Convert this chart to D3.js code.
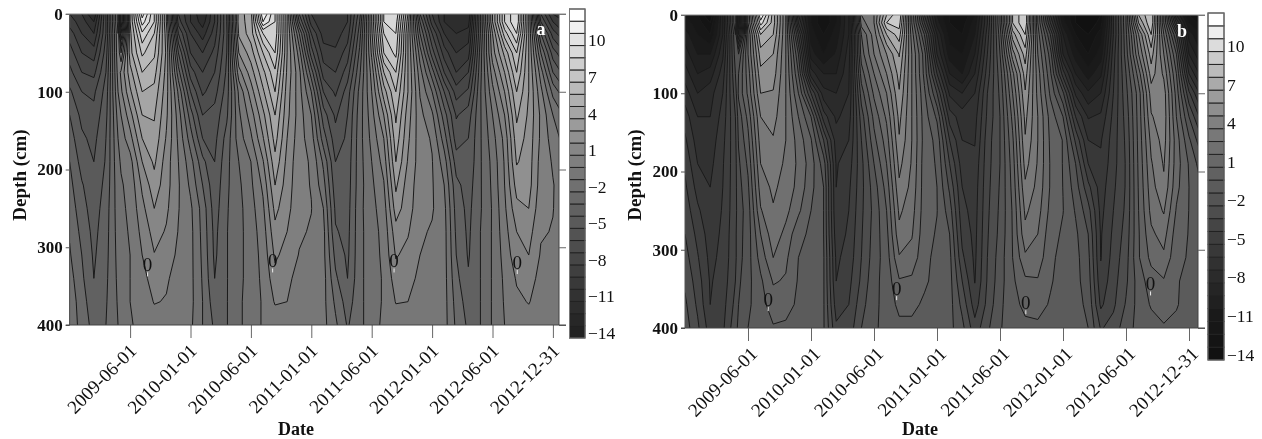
<!DOCTYPE html>
<html>
<head>
<meta charset="utf-8">
<script src="https://cdn.jsdelivr.net/npm/d3@7"></script>
<style>
body { margin: 0; background: #fff; }
svg { filter: blur(0.35px); }
text { font-family: "Liberation Serif", serif; fill: #111; }
</style>
</head>
<body>
<svg id="chart" width="1262" height="439"></svg>
<script>
// depth of each sampled level (cm)
var depths = [0, 10, 25, 50, 75, 100, 130, 160, 190, 220, 250, 280, 310, 340, 370, 400];
var depthTicks = [0, 100, 200, 300, 400];
// axis is evenly spaced by tick, samples sit about every fifth of a tick
var colTicks = [0, .2, .4, .6, .8, .85, 1, 1.2, 1.4, 1.6, 1.8, 2, 2.2, 2.4, 2.6, 2.8, 3, 3.2, 3.4, 3.6, 3.8, 4, 4.2, 4.4, 4.6, 4.8, 5, 5.2, 5.4, 5.6, 5.8, 6, 6.2, 6.4, 6.6, 6.8, 7, 7.2, 7.4, 7.6, 7.8, 8, 8.2];
var dateLabels = ["2009-06-01", "2010-01-01", "2010-06-01", "2011-01-01", "2011-06-01", "2012-01-01", "2012-06-01", "2012-12-31"];
var levels = d3.range(-14, 13);
var barLabels = [-14, -11, -8, -5, -2, 1, 4, 7, 10];
var grayStops = [-14, -11, -8, -5, -2, 1, 4, 7, 10, 12];
var graysA = [34, 50, 70, 90, 112, 134, 165, 197, 227, 255];
var graysB = [17, 26, 43, 62, 84, 104, 128, 170, 220, 255];

// temperature, one line per date column, top to bottom
var tempA = [
[-9,-8.5,-7.5,-6.5,-5.7,-4.8,-4,-3.5,-3,-2.7,-2.4,-2.1,-1.9,-1.6,-1.3,-1.1],
[-10,-9.5,-9,-8,-7,-6,-5.3,-4.8,-4.4,-3.9,-3.6,-3.3,-3,-2.8,-2.6,-2.5],
[-12,-11,-10,-8.5,-7.3,-6.2,-5.7,-5.3,-5,-4.7,-4.5,-4.3,-4.15,-4,-3.6,-3.3],
[-6,-6,-6,-5.5,-5,-4.6,-4.3,-4,-3.9,-3.7,-3.5,-3.4,-3.3,-3.2,-3.1,-3],
[1.5,1.5,1,.8,.4,0,-.6,-1,-1.2,-1.4,-1.5,-1.6,-1.7,-1.8,-1.9,-2],
[-6,-6,-4,-1,1.2,.8,0,-.5,-.9,-1.1,-1.2,-1.3,-1.4,-1.5,-1.6,-1.8],
[5,5,4.7,4.6,3.6,2.8,1.6,.6,-.4,-.7,-.8,-.9,-1,-1,-1,-1.1],
[11.5,10.5,8.8,7.2,6,5,4,3,2,1.2,.7,.3,0,-.3,-.5,-.7],
[8,8,7,6.2,5.4,4.7,4.1,3.7,3.2,2.6,2,1.4,.95,.4,.05,-.4],
[2,2,2.5,2.8,2.6,2.4,2.2,1.9,1.5,1.4,1.2,.9,.5,.1,-.05,-.4],
[-8,-7.5,-6,-4,-2.6,-1.2,-.5,-.2,0,.1,.05,-.05,-.2,-.3,-.4,-.5],
[-10,-10,-9,-8,-6.5,-5,-3.5,-2.5,-1.6,-1.2,-.8,-.7,-.7,-.7,-.7,-.8],
[-12,-11.5,-10.5,-9,-8,-7.2,-6,-5,-3.7,-3,-2.4,-2.3,-2.2,-2.1,-2,-2],
[-9,-9,-8.5,-7.7,-7,-6.4,-5.6,-5.3,-5,-4.7,-4.5,-4.3,-4.2,-4,-3.6,-3.2],
[-5,-5,-5.2,-5,-4.8,-4.5,-4.2,-3.6,-3.3,-3.2,-3.1,-3.05,-3.05,-3.05,-3.05,-3.05],
[3.5,3.6,3.2,2,.6,-.8,-1.2,-1.5,-2,-2.2,-2.3,-2.3,-2.3,-2.3,-2.2,-2.2],
[4.6,4.4,4.5,3.5,2.5,1.5,.5,-.2,-1,-1.2,-1.4,-1.5,-1.5,-1.5,-1.5,-1.5],
[12,11,8,6,4.7,3.8,2.7,1.9,.9,.2,-.2,-.5,-.7,-.8,-.9,-.9],
[9,9,8.8,8,6.8,6,5,4.4,3.7,3,2.3,1.7,1.2,.6,.1,-.6],
[3,3,3,3,2.8,2.5,2.3,2,1.7,1.5,1.3,1,.6,.2,0,-.4],
[-5,-4,-2,-.5,.3,.4,.5,.4,.3,.3,.3,.15,-.05,-.3,-.35,-.4],
[-9,-8.5,-7,-5.5,-3.5,-2,-1,-.5,-.1,-.05,.03,-.1,-.25,-.4,-.45,-.5],
[-10,-10,-9.5,-8.5,-7.5,-6,-4.5,-3.5,-2.2,-1.6,-1,-.7,-.7,-.6,-.7,-.7],
[-10,-10,-9.5,-8.8,-8,-7.2,-6.2,-5.6,-5,-4.6,-4.2,-3.9,-3.3,-2.8,-2.2,-1.8],
[-9,-9,-8.5,-7.5,-6.5,-5.5,-5,-4.8,-4.6,-4.5,-4.4,-4.3,-4.2,-4,-3.5,-3.1],
[-5.5,-5,-4.5,-3.8,-3.2,-2.7,-2.5,-2.4,-2.4,-2.4,-2.3,-2.3,-2.3,-2.3,-2.3,-2.3],
[2,2,1.8,1.2,.4,0,-.4,-.7,-1,-1.2,-1.3,-1.4,-1.4,-1.4,-1.4,-1.4],
[9,9,8,7,5,3.5,2,1,.4,-.1,-.5,-.7,-.8,-.9,-.9,-.8],
[10,9.5,9,8.3,7,6,5.2,4.6,4,3.2,2.5,1.6,1.1,.5,.05,-.5],
[4,3.5,3,3,3,3,2.5,2.2,1.9,1.5,1.4,1.1,.7,.3,0,-.4],
[-5,-4,-3,-1.5,-.6,-.1,.3,.4,.5,.5,.4,.15,0,-.2,-.3,-.4],
[-9,-8.5,-7,-5.5,-3.5,-2,-.8,-.1,.05,.1,.1,-.1,-.3,-.4,-.5,-.5],
[-11,-11,-10,-8.5,-7,-5,-3.5,-2.5,-1.5,-1,-.7,-.6,-.6,-.6,-.6,-.6],
[-12,-12,-11,-10,-9,-7.5,-6.1,-5.5,-4.5,-3.7,-3.4,-3.2,-3,-2.7,-2.4,-2.2],
[-12,-11.5,-10.5,-9.5,-8,-6.8,-5.5,-5,-4.8,-4.5,-4.3,-4.2,-4.1,-3.9,-3.5,-3.2],
[-4,-4,-4,-3.5,-3.3,-3.1,-3.1,-3.1,-3.1,-3.1,-3.1,-3,-3,-3,-3,-3],
[3,3,2,1.5,.5,-.3,-1,-1.4,-1.7,-1.8,-1.9,-1.9,-1.9,-1.9,-1.9,-1.9],
[8,8,6.5,4.3,3,2,1,.3,.1,0,-.2,-.4,-.6,-.8,-.9,-1],
[10,10,9,7,6,5,4.2,3.6,3.1,2.4,1.7,1,.6,.1,-.2,-.6],
[3,3,3,3,3,3,2.8,2.6,2.5,2.4,2,1.4,1,.4,.05,-.4],
[-7,-6,-4,-2,-.5,.3,.8,.8,.6,.5,.3,.1,-.1,-.3,-.4,-.4],
[-10,-9,-7.5,-5.5,-4,-2.3,-1,-.5,-.1,.05,.03,-.05,-.3,-.4,-.5,-.5],
[-11,-10,-9,-7,-5.5,-3.8,-2.2,-1.4,-.8,-.5,-.5,-.5,-.5,-.5,-.6,-.6]
];

var tempB = [
[-11,-10.5,-9.5,-8.5,-7.5,-6.5,-5.5,-4.8,-4.2,-3.8,-3.4,-3,-2.6,-2.2,-1.8,-1.5],
[-12,-11.5,-11,-10,-9,-8,-7,-6.5,-6,-5.4,-4.8,-4.3,-3.9,-3.5,-3.2,-2.8],
[-14,-13,-12,-10,-8.5,-7.4,-7,-6.6,-6.3,-6,-5.8,-5.5,-5.3,-5.1,-5,-4.5],
[-8,-8,-8,-7.2,-6.5,-6,-5.6,-5.3,-5.1,-5,-4.9,-4.8,-4.7,-4.6,-4.4,-4.2],
[0,0,-1,-1.5,-2,-2.5,-3,-3.2,-3.3,-3.3,-3.3,-3.2,-3.2,-3,-2.7,-2.3],
[-8,-8,-6,-2,-1,-.8,-1.6,-1.9,-2.2,-2.4,-2.5,-2.4,-2.4,-2.2,-2,-1.8],
[3,3,2,2,1.5,1.2,.3,-.3,-.8,-1.2,-1.5,-1.5,-1.4,-1.3,-1.2,-1],
[12,10.5,8,6.5,5.7,5,4,3.5,3,2.5,1.9,1,.4,-.2,-.4,-.5],
[7.5,7.5,7,6,5.5,4.9,4.4,3.9,3.6,3.2,2.9,2.6,2,1.1,.5,-.1],
[3,3,3,3,3,3,3,3,2.8,2.6,2.3,1.7,1.2,.9,.4,-.2],
[-7,-6,-4,-2,-1,0,1,1.6,1.8,1.7,1.2,.3,0,-.1,-.2,-.4],
[-11,-11,-10.5,-9.5,-7.5,-4,-1,.1,.5,.3,0,-.2,-.3,-.4,-.5,-.6],
[-13,-13,-12,-11,-9,-7.6,-5.5,-3,-1.5,-1,-1,-1,-.9,-.9,-.9,-.9],
[-11,-11,-10.5,-9.8,-9,-8,-7.2,-6.5,-6.1,-6,-5.9,-5.6,-5.2,-5,-4.5,-3.8],
[-8,-8,-8,-7.5,-7.2,-7,-6.5,-6,-5.5,-5.2,-5,-4.8,-4.6,-4.3,-4,-3.6],
[3,2.5,1,.5,-.5,-1.5,-2.5,-3,-3.3,-3.3,-3.2,-3.1,-3,-2.8,-2.4,-2],
[4,4,3.5,3,2,1.2,.3,-.3,-1,-1.5,-1.7,-1.6,-1.5,-1.3,-1.2,-1.1],
[8,9,7,5,4,3,2.2,1.5,1,.4,0,-.3,-.5,-.6,-.7,-.8],
[10,9.5,8.5,7.1,6.4,5.9,5.3,4.9,4.3,3.8,3.2,2.7,1.9,.9,.3,-.3],
[2,2,2.5,3,3,3,3,3,2.9,2.7,2.4,2.1,1.6,.8,.3,-.3],
[-5,-4,-2,-.5,-.3,.2,.5,.6,.5,.5,.5,.4,.3,.2,-.2,-.4],
[-10,-9.5,-8,-7,-5,-3,-1.2,-.3,-.1,0,.03,-.1,-.3,-.4,-.5,-.5],
[-12,-12,-11.5,-10.5,-9,-7.2,-5.5,-4,-3,-2.2,-1.5,-1,-.7,-.6,-.6,-.7],
[-13,-12.5,-12,-11,-10,-8,-6.5,-6,-5.5,-5,-4.7,-4.3,-3.8,-3,-2.3,-1.7],
[-11,-10.5,-10,-9,-8,-7,-6.4,-6.1,-5.7,-5.5,-5.4,-5.3,-5.2,-5.05,-4.5,-3.6],
[-6,-6,-5.5,-5,-4.5,-4,-3.8,-3.5,-3.4,-3.3,-3.2,-3.1,-3,-2.9,-2.7,-2.2],
[0,0,-.5,-1,-1.5,-1.8,-2,-2,-2,-1.9,-1.8,-1.7,-1.5,-1.4,-1.2,-1.05],
[8,8,6.5,4.5,2.7,2,1.3,.8,.5,.3,.1,.05,0,-.2,-.4,-.7],
[10,10,9,7.5,6.5,5.9,5.3,4.9,4.4,3.8,3.2,2.7,1.8,.8,.3,-.3],
[1,1,1.5,2,2.5,2.7,3,3,2.9,2.7,2.4,2,1.6,.9,.35,-.2],
[-6,-5,-3,-1.5,-.8,-.2,.6,.8,.9,.9,.7,.4,.2,.1,-.1,-.4],
[-11,-10.5,-9,-8,-5.5,-2.8,-1,-.05,-.05,-.02,.03,-.15,-.3,-.4,-.5,-.5],
[-13,-13,-12,-10.5,-9,-7.2,-5,-3.2,-2,-1.5,-1.1,-.8,-.7,-.7,-.7,-.7],
[-14,-14,-13,-12,-10.5,-8.8,-7.1,-6,-5,-3.7,-2.6,-2,-1.7,-1.5,-1.2,-1],
[-13,-12.5,-11.5,-10.5,-9.2,-8,-6.8,-6.1,-5.8,-5.5,-5.3,-5.1,-5.05,-4.7,-4.2,-3.1],
[-6,-6,-6,-5.5,-5.2,-5,-4.7,-4.5,-4.4,-4.2,-4,-3.8,-3.6,-3.4,-3.2,-2.6],
[-1,-1,-1.2,-1.5,-2,-2.3,-2.6,-2.8,-2.9,-2.9,-2.8,-2.6,-2.4,-2.2,-1.9,-1.4],
[7,6,4,3,1.5,.5,.4,.3,.2,.1,0,-.1,-.1,-.5,-.6,-.7],
[9,9,8,6.5,5.5,4.5,3.9,3.3,2.9,2.6,2.3,1.8,1.3,.5,.1,-.4],
[1,1,2,3,3.8,4.5,4.6,4.4,4.1,3.8,3.1,2.4,1.8,.9,.4,-.1],
[-8,-6,-3,-1,0,.6,1,1.5,1.5,1.3,.9,.5,.3,.1,.1,-.3],
[-12,-11,-9.5,-8,-6,-3.8,-2,-.8,-.1,0,-.02,-.05,-.1,-.3,-.5,-.5],
[-13,-12.5,-11,-10,-8.5,-6.5,-4.5,-2.8,-1.6,-1,-.8,-.7,-.6,-.6,-.6,-.6]
];

// where the "0" contour labels sit: tick position, depth
var zeroLabelsA = [[1.29, 331], [3.36, 326], [5.37, 326], [7.41, 328]];
var zeroLabelsB = [[1.32, 372], [3.36, 358], [5.41, 376], [7.39, 352]];

var svg = d3.select("#chart");

function drawPanel(id, name, temps, grays, zeros, box, bar) {
  var x = d3.scaleLinear().domain([0, 8]).range([box.left, box.left + box.step * 8]),
      y = d3.scaleLinear().domain([0, 400]).range([box.top, box.bottom]),
      color = d3.scaleLinear().domain(grayStops).range(grays),
      gray = function(k) { var v = Math.round(color(k)); return d3.rgb(v, v, v); };

  // contour grid coordinates -> sample index -> tick / depth
  var colIndex = d3.scaleLinear().domain(d3.range(colTicks.length)).range(colTicks),
      rowIndex = d3.scaleLinear().domain(d3.range(depths.length)).range(depths);
  var path = d3.geoPath(d3.geoTransform({
    point: function(cx, cy) {
      this.stream.point(x(colIndex(cx - .5)), y(rowIndex(cy - .5)));
    }
  }));

  var grid = [];
  depths.forEach(function(d, r) {
    colTicks.forEach(function(t, c) { grid.push(temps[c][r]); });
  });
  var contours = d3.contours().size([colTicks.length, depths.length]).thresholds(levels)(grid);

  svg.append("clipPath").attr("id", "clip" + id).append("rect")
      .attr("x", box.left).attr("y", box.top)
      .attr("width", box.right - box.left).attr("height", box.bottom - box.top);

  var g = svg.append("g").attr("clip-path", "url(#clip" + id + ")");
  g.append("rect")
      .attr("x", box.left).attr("y", box.top)
      .attr("width", box.right - box.left).attr("height", box.bottom - box.top)
      .attr("fill", gray(-14));
  g.selectAll("path").data(contours).enter().append("path")
      .attr("d", path)
      .attr("fill", function(d) { return gray(d.value); })
      .attr("stroke", "#1a1a1a")
      .attr("stroke-width", 1)
      .attr("stroke-linejoin", "round");

  // axes
  var bottom = svg.append("g").attr("transform", "translate(0," + box.bottom + ")")
      .call(d3.axisBottom(x).tickValues(d3.range(1, 9)).tickSize(13).tickSizeOuter(0)
        .tickFormat(function(d) { return dateLabels[d - 1]; }));
  bottom.selectAll("line").attr("stroke", "#666");
  bottom.select(".domain").remove();
  bottom.selectAll("text")
      .attr("font-size", 19)
      .attr("text-anchor", "end")
      .attr("dy", null)
      .attr("transform", "translate(" + box.dateShift + ",27) rotate(-45)")
      .attr("x", 0).attr("y", 0);

  var left = svg.append("g").attr("transform", "translate(" + box.left + ",0)")
      .call(d3.axisLeft(y).tickValues(depthTicks).tickSize(4).tickPadding(3));
  left.select(".domain").attr("stroke", "#555").attr("d", "M0," + box.top + "V" + box.bottom);
  left.selectAll("line").attr("stroke", "#555");
  left.selectAll("text").attr("font-size", 17).attr("font-weight", "bold");

  var right = svg.append("g").attr("transform", "translate(" + box.right + ",0)")
      .call(d3.axisRight(y).tickValues(depthTicks).tickSize(7).tickFormat(""));
  right.select(".domain").attr("stroke", "#444").attr("d", "M0," + box.top + "V" + box.bottom);
  right.selectAll("line").attr("stroke", "#666");

  svg.append("line").attr("x1", box.left - 4).attr("x2", box.right + 7)
      .attr("y1", box.top).attr("y2", box.top).attr("stroke", "#888");
  svg.append("line").attr("x1", box.left - 4).attr("x2", box.right + 7)
      .attr("y1", box.bottom).attr("y2", box.bottom).attr("stroke", "#444");

  // contour labels
  var zero = svg.append("g").selectAll("g").data(zeros).enter().append("g")
      .attr("transform", function(d) { return "translate(" + x(d[0]) + "," + y(d[1]) + ")"; });
  zero.append("text").attr("text-anchor", "middle").attr("font-size", 19).text("0");
  zero.append("line").attr("y1", 1).attr("y2", 5).attr("stroke", "#eee").attr("stroke-width", 1);

  svg.append("text").attr("x", box.nameX).attr("y", box.nameY)
      .attr("text-anchor", "middle").attr("font-size", 18).attr("font-weight", "bold")
      .style("fill", "#fff").text(name);

  svg.append("text").attr("x", box.dateX).attr("y", 435)
      .attr("text-anchor", "middle").attr("font-size", 18).attr("font-weight", "bold").text("Date");
  svg.append("text").attr("transform", "translate(" + box.depthX + "," + box.depthY + ") rotate(-90)")
      .attr("text-anchor", "middle").attr("font-size", 19).attr("font-weight", "bold").text("Depth (cm)");

  // colour bar
  var barY = d3.scaleBand().domain(levels.slice().reverse()).range([bar.top, bar.bottom]);
  svg.append("g").selectAll("rect").data(levels).enter().append("rect")
      .attr("x", bar.left).attr("width", bar.width)
      .attr("y", function(d) { return barY(d); })
      .attr("height", barY.bandwidth())
      .attr("fill", function(d) { return gray(d); })
      .attr("stroke", "#222").attr("stroke-width", 1);
  svg.append("rect").attr("x", bar.left).attr("y", bar.top)
      .attr("width", bar.width).attr("height", bar.bottom - bar.top)
      .attr("fill", "none").attr("stroke", "#777");
  svg.append("g").selectAll("text").data(barLabels).enter().append("text")
      .attr("x", bar.left + bar.width + 3)
      .attr("y", function(d) { return barY(d) + barY.bandwidth() / 2 + 7; })
      .attr("font-size", 17.5)
      .text(function(d) { return String(d).replace("-", "\u2212"); });
}

drawPanel("a", "a", tempA, graysA, zeroLabelsA,
  {left: 69.7, right: 559, top: 14, bottom: 325, step: 60.4, dateShift: 7, nameX: 541, nameY: 35,
   dateX: 296, depthX: 26, depthY: 175},
  {left: 569.5, width: 15.5, top: 9, bottom: 338});
drawPanel("b", "b", tempB, graysB, zeroLabelsB,
  {left: 685, right: 1198, top: 15, bottom: 328, step: 63, dateShift: 10, nameX: 1182, nameY: 37,
   dateX: 920, depthX: 641, depthY: 175},
  {left: 1208, width: 16, top: 13, bottom: 360});
</script>
</body>
</html>
